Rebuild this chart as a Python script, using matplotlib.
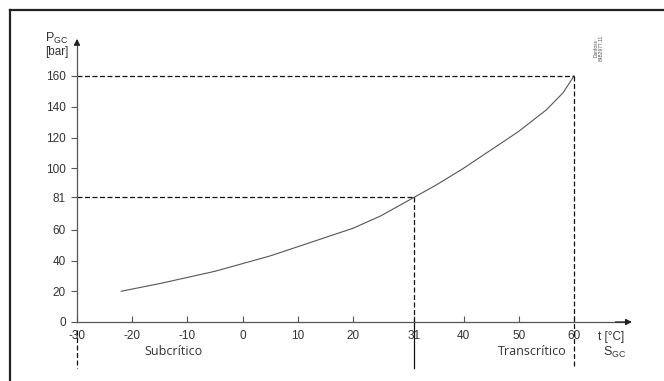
import numpy as np
import matplotlib
matplotlib.use("Agg")
import matplotlib.pyplot as plt
from matplotlib.lines import Line2D

# curve (t in degC, P in bar)
t_vals = [-22, -15, -10, -5, 0, 5, 10, 15, 20, 25, 31, 35, 40, 45, 50, 55, 58, 60]
p_vals = [20, 25, 29, 33, 38, 43, 49, 55, 61, 69, 81, 89, 100, 112, 124, 138, 149, 160]

x_ticks = [-30, -20, -10, 0, 10, 20, 31, 40, 50, 60]
y_ticks = [0, 20, 40, 60, 81, 100, 120, 140, 160]

t_crit, p_crit = 31, 81
t_max, p_max = 60, 160

plt.rcParams['font.family'] = ['Liberation Sans', 'DejaVu Sans']
txt = '#333333'

fig = plt.figure(figsize=(6.64, 3.81), dpi=100)
ax = fig.add_axes([0, 0, 1, 1])
# map data to pixels: -30 -> 77px, 60 -> 574px ; 0 bar -> y 322px, 160 -> 76px
ux = 90 / 497
uy = 160 / 246
ax.set_xlim(-30 - 77 * ux, -30 + (664 - 77) * ux)
ax.set_ylim(-(381 - 322) * uy, (322) * uy)
ax.patch.set_visible(False)

# outer frame (cut off at right/bottom)
fig.add_artist(Line2D([10 / 664, 1.0], [1 - 10 / 381, 1 - 10 / 381], color='#222222', lw=1.6))
fig.add_artist(Line2D([10 / 664, 10 / 664], [1 - 10 / 381, 0], color='#222222', lw=1.6))

for s in ['top', 'right']:
    ax.spines[s].set_visible(False)
ax.spines['left'].set_position(('data', -30))
ax.spines['bottom'].set_position(('data', 0))
ax.spines['left'].set_bounds(0, 182)
ax.spines['bottom'].set_bounds(-30, 69)
for s in ['left', 'bottom']:
    ax.spines[s].set_color('#555555')
    ax.spines[s].set_linewidth(0.9)

# arrow heads
ax.annotate('', xy=(-30, 186), xytext=(-30, 180),
            arrowprops=dict(arrowstyle='-|>', color='#222222', lw=0.9, mutation_scale=9))
ax.annotate('', xy=(71, 0), xytext=(67, 0),
            arrowprops=dict(arrowstyle='-|>', color='#222222', lw=0.9, mutation_scale=9))

ax.set_xticks(x_ticks)
ax.set_xticklabels([str(v) for v in x_ticks])
ax.set_yticks(y_ticks)
ax.set_yticklabels([str(v) for v in y_ticks])
ax.tick_params(axis='x', direction='in', length=4, color='#555555', labelsize=8.5,
               labelcolor=txt, pad=6)
ax.tick_params(axis='y', direction='out', length=4, color='#555555', labelsize=8.5,
               labelcolor=txt, pad=4)

# curve
ax.plot(t_vals, p_vals, color='#555555', lw=0.8)

dash = dict(color='#111111', lw=0.9, ls=(0, (4, 2)), clip_on=False)
ax.plot([-30, t_max], [p_max, p_max], **dash)
ax.plot([-30, t_crit], [p_crit, p_crit], **dash)
ax.plot([t_crit, t_crit], [p_crit, 0], **dash)
ax.plot([t_max, t_max], [p_max, -30], **dash)
ax.plot([-30, -30], [-5, -30], **dash)
ax.plot([t_crit, t_crit], [0, -30], color='#111111', lw=0.9, clip_on=False)

ax.text(-12.5, -19.5, 'Subcrítico', fontsize=9, color=txt, ha='center', va='center',
        family=['Open Sans', 'DejaVu Sans'])
ax.text(52.5, -19.5, 'Transcrítico', fontsize=9, color=txt, ha='center', va='center',
        family=['Open Sans', 'DejaVu Sans'])
ax.text(64.4, -9.5, 't [°C]', fontsize=8.5, color=txt, ha='left', va='center')
ax.text(65.2, -19.8, r'S$_{\mathregular{GC}}$', fontsize=9, color=txt, ha='left', va='center')
ax.text(-33.6, 184.5, r'P$_{\mathregular{GC}}$', fontsize=9, color=txt, ha='center', va='center')
ax.text(-33.6, 175.5, '[bar]', fontsize=8.5, color=txt, ha='center', va='center')
ax.text(64.5, 178, 'Danfoss\n84B2977.11', fontsize=3.5, color='#555555', rotation=90,
        ha='center', va='center', linespacing=1.0)

fig.savefig('out.png', dpi=100)
